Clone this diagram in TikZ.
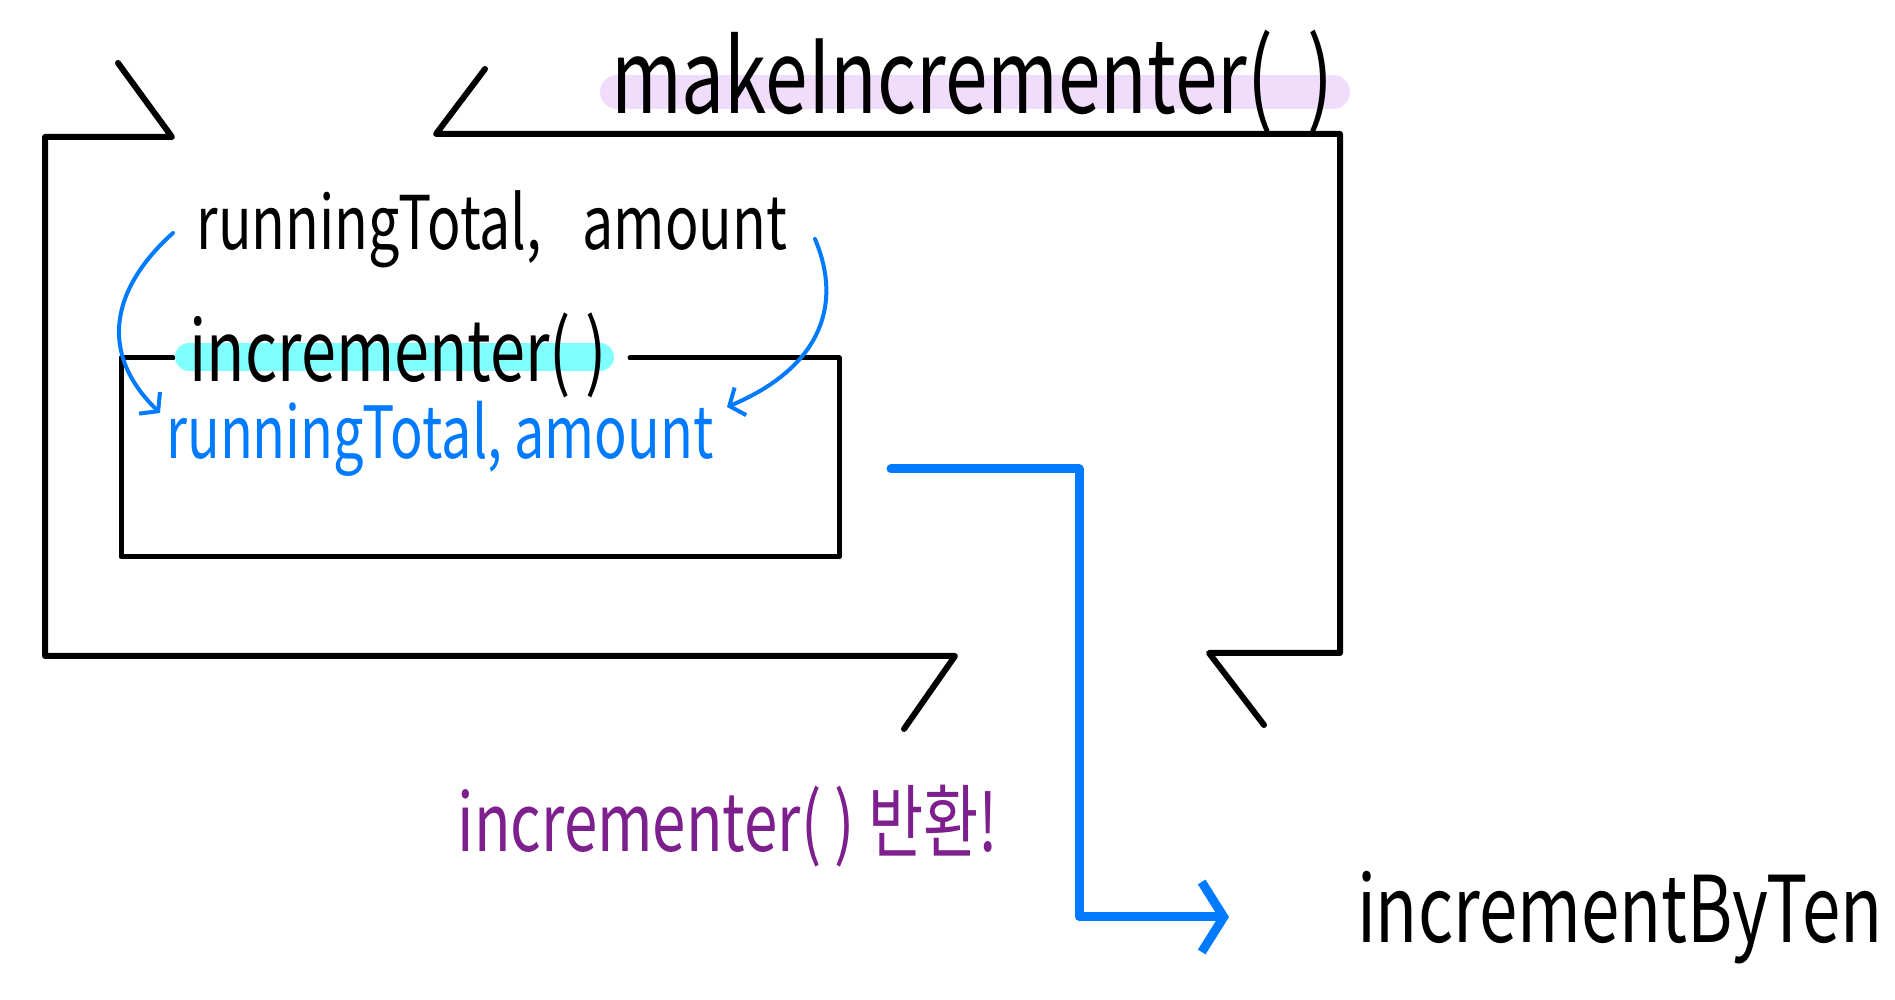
\documentclass[tikz,border=0pt]{standalone}
\usepackage{fontspec}
\setmainfont{Noto Sans CJK KR}[FakeStretch=0.75]
\usetikzlibrary{arrows.meta}
\definecolor{penblue}{RGB}{0,122,255}
\definecolor{penpurple}{RGB}{125,31,140}
\definecolor{lilac}{RGB}{240,221,251}
\definecolor{aqua}{RGB}{128,255,255}
\begin{document}
\begin{tikzpicture}[x=.5pt,y=.5pt,line cap=round,line join=round,
 frame/.style={line width=3pt},
 innerbox/.style={line width=2.5pt},
 marker/.style={line width=#1},
 pen/.style={penblue,line width=2pt,-{Straight Barb[length=6pt,width=15pt]}},
 retline/.style={penblue,line width=4.5pt,-{Straight Barb[length=11pt,width=35pt]}},
 label/.style={anchor=base,inner sep=0pt,font=\fontsize{#1}{#1}\selectfont}]
 \useasboundingbox (0,0) rectangle (1895,1000);
 \draw[frame] (118,937)--(172,863)--(45,863)--(45,344)--(955,344)--(904,271);
 \draw[frame] (485,931)--(436,866)--(1340,866)--(1340,347)--(1209,347)--(1264,275);
 \draw[lilac,marker=17pt] (617,908)--(1333,908);
 \node[label=51] (maker) at (972,886) {makeIncrementer(\ \ )};
 \draw[innerbox] (173,642)--(121,642)--(121,443)--(839,443)--(839,642)--(630,642);
 \draw[aqua,marker=14pt] (189,643)--(600,643);
 \node[label=42] (inner) at (398,618) {incrementer(\ )};
 \node[label=37] (outerpar) at (492,750) {runningTotal,\hspace{.55em}amount};
 \node[label=36,text=penblue] (innerpar) at (440,541) {runningTotal,\ amount};
 \node[label=40,text=penpurple] (ret) at (728,148) {incrementer(\ )\ 반환!};
 \node[label=46] (byten) at (1620,57) {incrementByTen};
 \coordinate (la) at (173,767);
 \coordinate (lb) at (160,587);
 \coordinate (ra) at (815,761);
 \coordinate (rb) at (727,593);
 \draw[pen] (la) .. controls (115,715) and (95,650) .. (lb);
 \draw[pen] (ra) .. controls (845,690) and (815,630) .. (rb);
 \coordinate (retstart) at (891,531);
 \coordinate (rettip) at (1229,83);
 \draw[retline] (retstart) -| (1079,83) -- (rettip);
\end{tikzpicture}
\end{document}
